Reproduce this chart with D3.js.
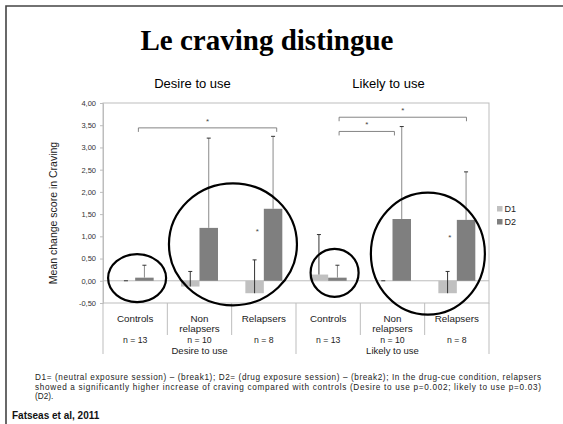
<!DOCTYPE html>
<html>
<head>
<meta charset="utf-8">
<script src="https://cdn.jsdelivr.net/npm/d3@7"></script>
<style>
  html, body { margin: 0; padding: 0; background: #fff; }
  svg { display: block; font-family: "Liberation Sans", Arial, sans-serif; }
</style>
</head>
<body>
<div id="chart"></div>
<script>
// Chart data
const groups = ["Desire to use", "Likely to use"];
const subgroups = ["Controls", "Non relapsers", "Relapsers"];
const sampleSizes = ["n = 13", "n = 10", "n = 8"];
const seriesNames = ["D1", "D2"];

// 6 bars per series: Desire (Controls, Non relapsers, Relapsers), Likely (same)
const d1Values = [0.00, -0.13, -0.28, 0.14, 0.00, -0.28];
const d1Errors = [0.00, 0.34, 0.75, 0.90, 0.00, 0.49];
const d2Values = [0.07, 1.19, 1.62, 0.07, 1.39, 1.37];
const d2Errors = [0.28, 2.02, 1.63, 0.28, 2.08, 1.08];

const yTicks = [-0.5, 0, 0.5, 1, 1.5, 2, 2.5, 3, 3.5, 4];

// significance brackets: category index + fraction of the band, level in value units
const brackets = [
    { from: 0, fromF: 0.55, to: 2, toF: 0.70, level: 3.44 },
    { from: 3, fromF: 0.67, to: 5, toF: 0.65, level: 3.68 },
    { from: 3, fromF: 0.67, to: 4, toF: 0.53, level: 3.36 }
];
const stars = [
    { cat: 2, f: 0.40, value: 1.14 },
    { cat: 5, f: 0.39, value: 1.00 }
];
// hand drawn circles (centre in category units / value units, radii in px)
const rings = [
    { pos: 0.53, value: 0.06, rx: 29, ry: 24 },
    { pos: 2.02, value: 0.82, rx: 64, ry: 61 },
    { pos: 3.60, value: 0.18, rx: 24, ry: 24 },
    { pos: 5.05, value: 0.61, rx: 57, ry: 61 }
];

const footnote = [
    "D1= (neutral exposure session) \u2013  (break1); D2= (drug exposure session) \u2013  (break2); In the drug-cue condition, relapsers",
    "showed a significantly higher increase of craving compared with controls (Desire to use p=0.002; likely to use p=0.03)",
    "(D2)."
];

const width = 563, height = 424;
const plot = { left: 103, right: 489, top: 103, bottom: 303 };

const svg = d3.select("#chart").append("svg")
    .attr("width", width)
    .attr("height", height);

svg.append("rect").attr("width", width).attr("height", height).attr("fill", "#fff");

// slide frame
svg.append("path")
    .attr("d", `M6,${height}V6H${width}`)
    .attr("fill", "none").attr("stroke", "#444").attr("stroke-width", 1.6);

// title
svg.append("text")
    .attr("x", 267).attr("y", 50)
    .attr("text-anchor", "middle")
    .style("font-family", "'Liberation Serif', 'Times New Roman', serif")
    .style("font-weight", "bold")
    .style("font-size", "29px")
    .text("Le craving distingue");

// scales
const cats = d3.range(6);
const x = d3.scaleBand().domain(cats).range([plot.left, plot.right]).padding(0);
const xSub = d3.scaleBand().domain(seriesNames).range([0, x.bandwidth()]).paddingInner(0).paddingOuter(0.74);
const xPos = d3.scaleLinear().domain([0, 6]).range([plot.left, plot.right]);
const y = d3.scaleLinear().domain([-0.5, 4]).range([plot.bottom, plot.top]);

// group headings above the plot
const groupX = d3.scaleBand().domain(groups).range([plot.left, plot.right]);
svg.append("g").selectAll("text")
    .data(groups)
    .join("text")
    .attr("x", (d, i) => groupX(d) + groupX.bandwidth() / 2 - (i === 0 ? 7 : 4))
    .attr("y", 88)
    .attr("text-anchor", "middle")
    .style("font-size", "13px")
    .text(d => d);

// frame of the plot
const gridColor = "#bdbdbd";
svg.append("rect")
    .attr("x", plot.left).attr("y", plot.top)
    .attr("width", plot.right - plot.left).attr("height", plot.bottom - plot.top)
    .attr("fill", "none").attr("stroke", gridColor).attr("stroke-width", 1);

// zero line
svg.append("line")
    .attr("x1", plot.left).attr("x2", plot.right)
    .attr("y1", y(0)).attr("y2", y(0))
    .attr("stroke", gridColor).attr("stroke-width", 1);

// y axis
const yAxis = svg.append("g")
    .attr("transform", `translate(${plot.left},0)`)
    .call(d3.axisLeft(y).tickValues(yTicks).tickSize(3).tickPadding(4)
        .tickFormat(d => d3.format(".2f")(d).replace(".", ",").replace("\u2212", "-")));
yAxis.select(".domain").attr("stroke", gridColor);
yAxis.selectAll(".tick line").attr("stroke", gridColor);
yAxis.selectAll(".tick text")
    .attr("fill", "#333")
    .style("font-size", "7.5px")
    .style("font-family", "'Liberation Sans', Arial, sans-serif");

svg.append("text")
    .attr("transform", `translate(57,213) rotate(-90)`)
    .attr("text-anchor", "middle")
    .style("font-size", "10.5px")
    .attr("fill", "#222")
    .text("Mean change score in Craving");

// category label area lines
const labelArea = svg.append("g").attr("stroke", gridColor).attr("stroke-width", 1);
[0, 3, 6].forEach(i => {
    labelArea.append("line")
        .attr("x1", xPos(i)).attr("x2", xPos(i))
        .attr("y1", plot.bottom).attr("y2", 354);
});
[1, 2, 4, 5].forEach(i => {
    labelArea.append("line")
        .attr("x1", xPos(i)).attr("x2", xPos(i))
        .attr("y1", plot.bottom).attr("y2", 335);
});

// category labels
const catLabels = svg.append("g").attr("fill", "#222").attr("text-anchor", "middle");
cats.forEach(c => {
    const cx = x(c) + x.bandwidth() / 2;
    const name = subgroups[c % 3];
    const lines = name === "Non relapsers" ? ["Non", "relapsers"] : [name];
    lines.forEach((l, k) => {
        catLabels.append("text")
            .attr("x", cx).attr("y", 321.5 + k * 10.5)
            .style("font-size", "9.8px")
            .text(l);
    });
    catLabels.append("text")
        .attr("x", cx).attr("y", 342.5)
        .style("font-size", "8.7px")
        .text(sampleSizes[c % 3]);
});
groups.forEach((g, i) => {
    catLabels.append("text")
        .attr("x", xPos(i * 3 + 1.5)).attr("y", 354)
        .style("font-size", "9.5px")
        .text(g);
});

// bars
const barData = cats.flatMap(c => [
    { cat: c, s: "D1", v: d1Values[c], e: d1Errors[c] },
    { cat: c, s: "D2", v: d2Values[c], e: d2Errors[c] }
]);
const color = d3.scaleOrdinal().domain(seriesNames).range(["#c0c0c0", "#7f7f7f"]);

svg.append("g").selectAll("rect")
    .data(barData)
    .join("rect")
    .attr("x", d => x(d.cat) + xSub(d.s))
    .attr("width", xSub.bandwidth())
    .attr("y", d => y(Math.max(0, d.v)))
    .attr("height", d => Math.abs(y(d.v) - y(0)))
    .attr("fill", d => color(d.s));

// error bars (upper only)
const errG = svg.append("g");
barData.forEach(d => {
    const cx = x(d.cat) + xSub(d.s) + xSub.bandwidth() / 2;
    const stroke = d.s === "D1" ? "#333" : "#8a8a8a";
    errG.append("line")
        .attr("x1", cx).attr("x2", cx)
        .attr("y1", y(d.v)).attr("y2", y(d.v + d.e))
        .attr("stroke", stroke).attr("stroke-width", 1);
    errG.append("line")
        .attr("x1", cx - 2).attr("x2", cx + 2)
        .attr("y1", y(d.v + d.e)).attr("y2", y(d.v + d.e))
        .attr("stroke", "#333").attr("stroke-width", 1);
});

// significance brackets
const brG = svg.append("g").attr("fill", "none").attr("stroke", "#777").attr("stroke-width", 0.9);
brackets.forEach(b => {
    const x1 = x(b.from) + x.bandwidth() * b.fromF;
    const x2 = x(b.to) + x.bandwidth() * b.toF;
    const yy = y(b.level);
    brG.append("path").attr("d", `M${x1},${yy + 4}V${yy}H${x2}V${yy + 4}`);
    svg.append("text")
        .attr("x", (x1 + x2) / 2).attr("y", yy - 4)
        .attr("text-anchor", "middle")
        .style("font-size", "8px").attr("fill", "#444")
        .text("*");
});
stars.forEach(s => {
    svg.append("text")
        .attr("x", x(s.cat) + x.bandwidth() * s.f).attr("y", y(s.value) + 4)
        .attr("text-anchor", "middle")
        .style("font-size", "8px").attr("fill", "#444")
        .text("*");
});

// hand drawn rings
svg.append("g").selectAll("ellipse")
    .data(rings)
    .join("ellipse")
    .attr("cx", d => xPos(d.pos))
    .attr("cy", d => y(d.value))
    .attr("rx", d => d.rx)
    .attr("ry", d => d.ry)
    .attr("fill", "none")
    .attr("stroke", "#000")
    .attr("stroke-width", 2.2);

// legend
const legend = svg.append("g").attr("transform", "translate(497,206)");
seriesNames.forEach((s, i) => {
    legend.append("rect")
        .attr("x", 0).attr("y", i * 13)
        .attr("width", 5.5).attr("height", 5.5)
        .attr("fill", color(s));
    legend.append("text")
        .attr("x", 7.5).attr("y", i * 13 + 6)
        .style("font-size", "9px").attr("fill", "#222")
        .text(s);
});

// footnote
footnote.forEach((l, i) => {
    const t = svg.append("text")
        .attr("x", 35).attr("y", 380 + i * 9.6)
        .style("font-size", "8.2px").attr("fill", "#222")
        .text(l);
    if (i < 2) t.attr("textLength", 506).attr("lengthAdjust", "spacing");
});

svg.append("text")
    .attr("x", 12).attr("y", 419)
    .style("font-size", "10px").style("font-weight", "bold")
    .attr("fill", "#111")
    .text("Fatseas et al, 2011");
</script>
</body>
</html>
